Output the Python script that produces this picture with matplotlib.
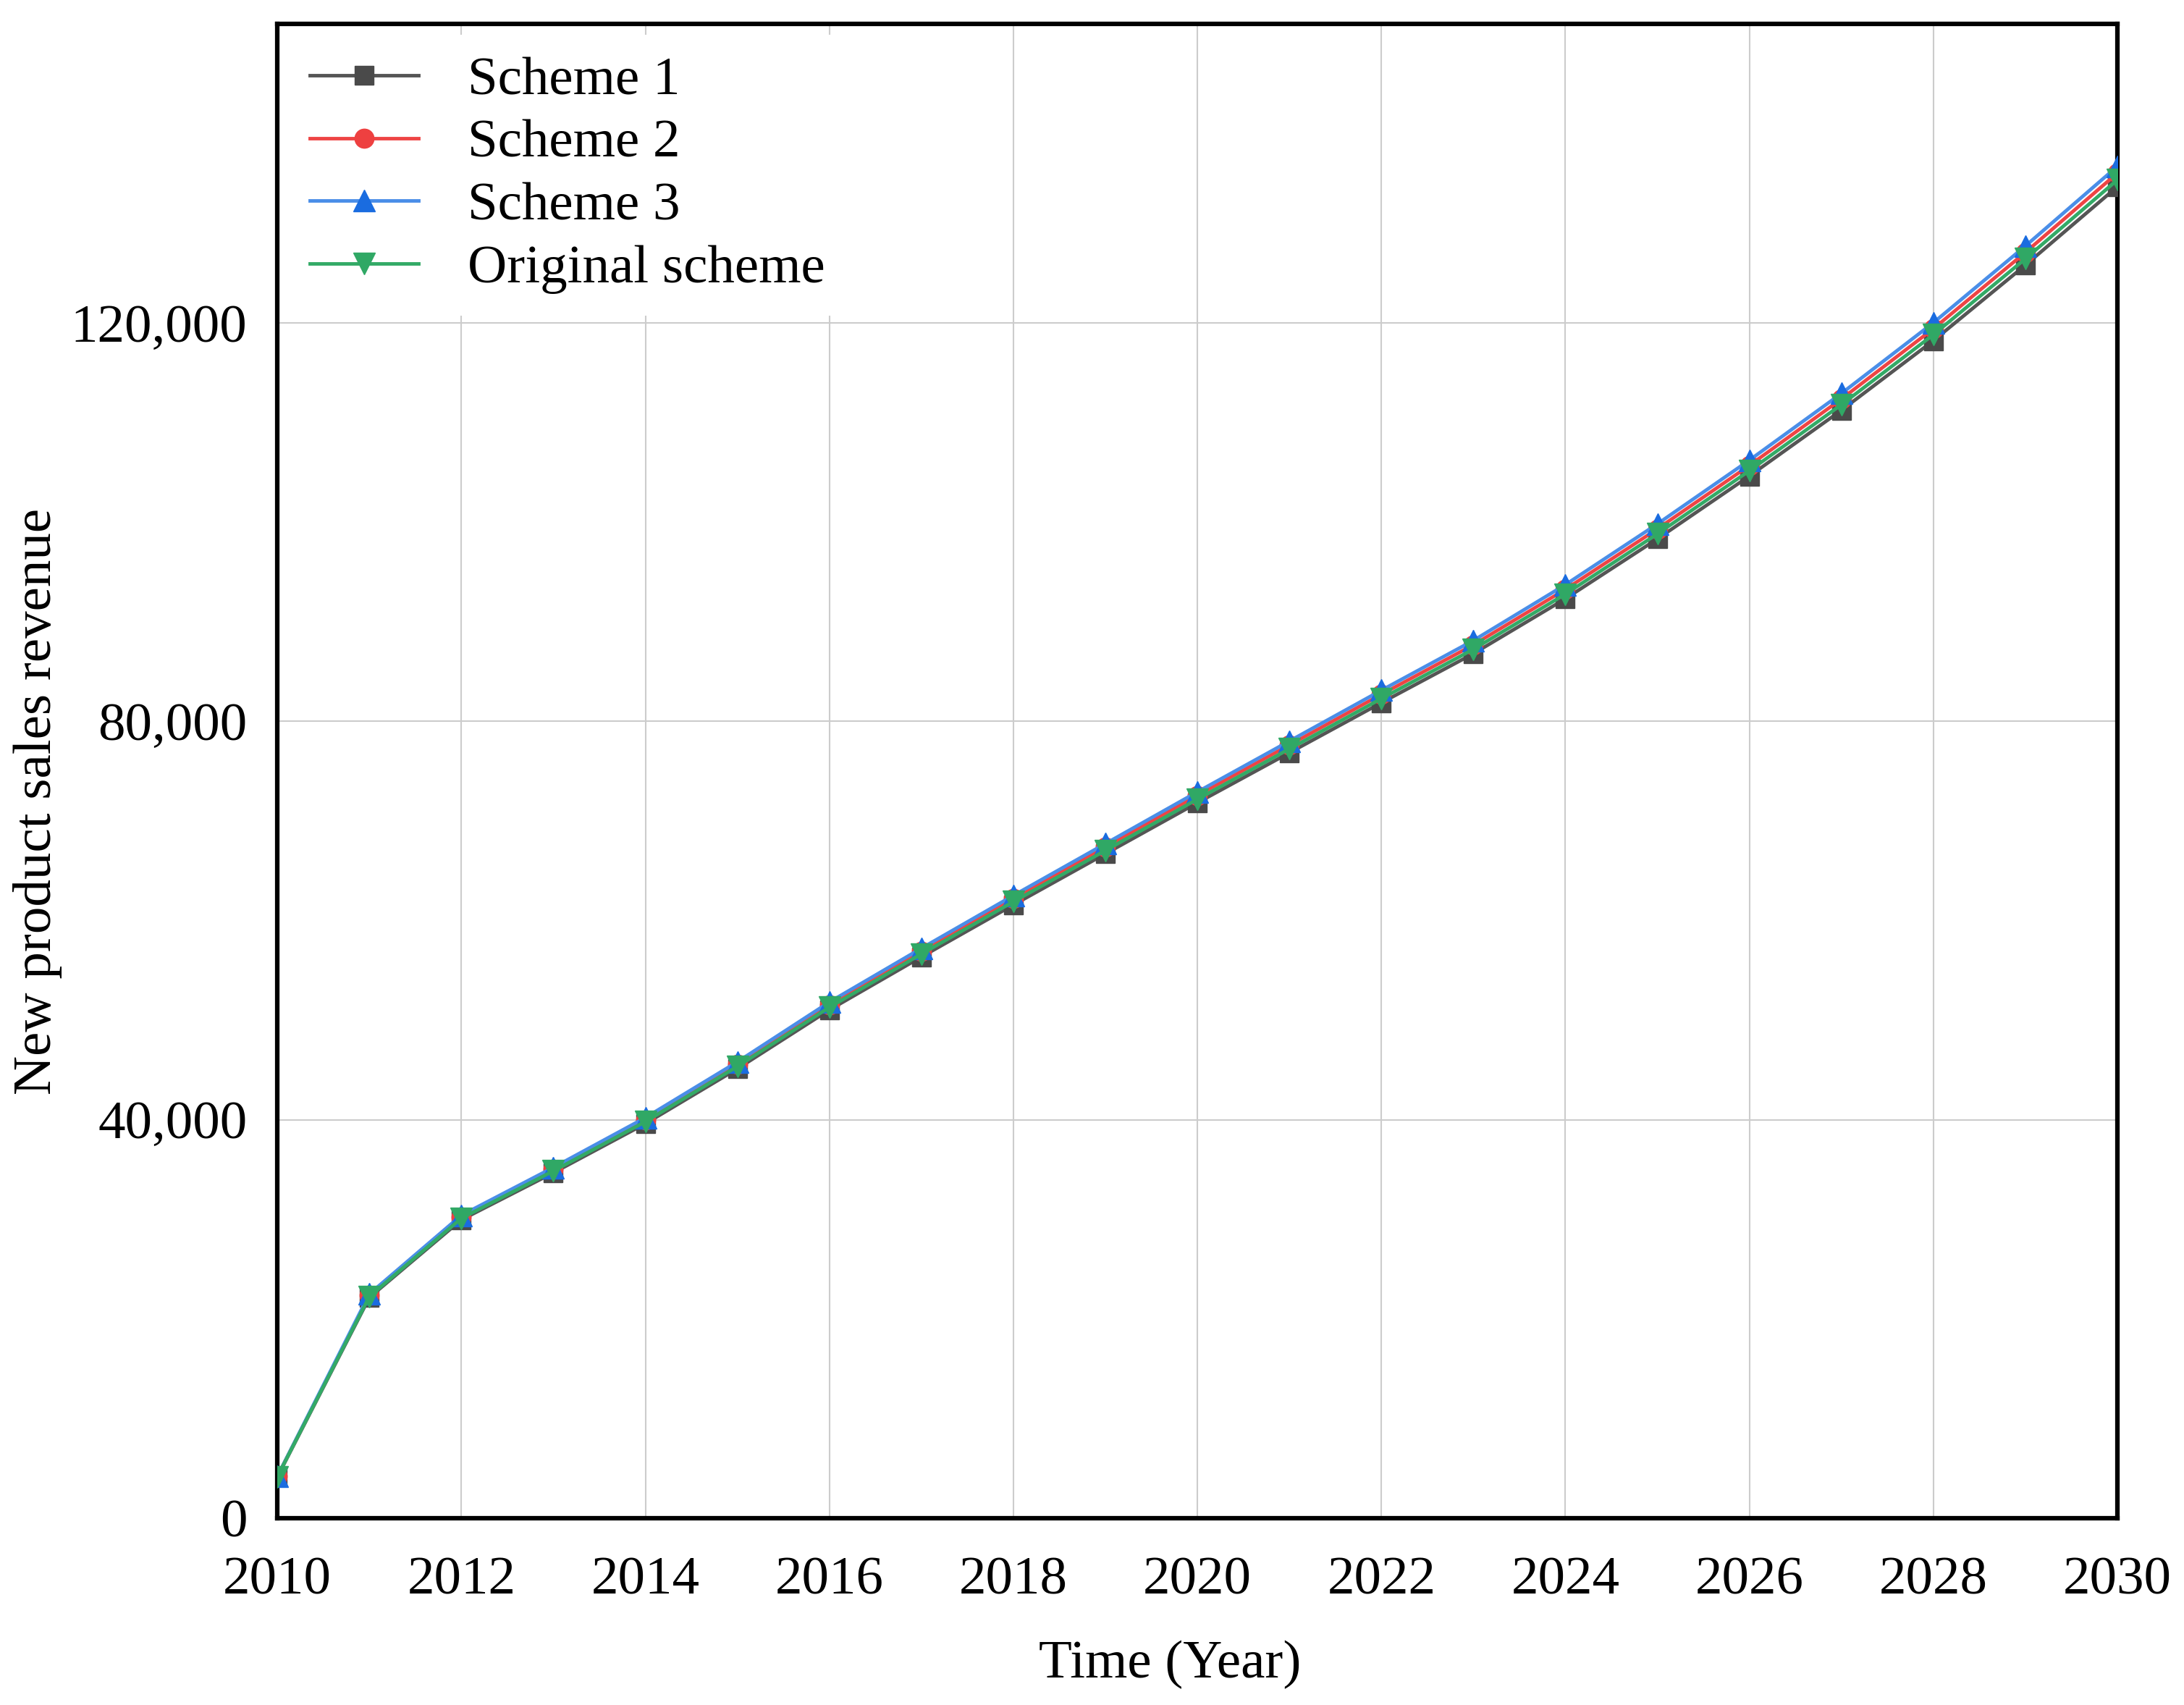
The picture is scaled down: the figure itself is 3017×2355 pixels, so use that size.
import matplotlib
matplotlib.use("Agg")
import matplotlib.pyplot as plt
from matplotlib.ticker import FuncFormatter

years = list(range(2010, 2031))
scheme3 = [4200, 22500, 30400, 35200, 40200, 45800, 51800, 57200, 62500, 67700, 72900,
           78000, 83100, 88100, 93700, 99800, 106200, 112900, 120000, 127700, 135700]
scheme2 = [4180, 22350, 30250, 35020, 40000, 45570, 51540, 56910, 62190, 67360, 72540,
           77610, 82690, 87660, 93230, 99300, 105670, 112340, 119400, 127060, 135020]
original = [4160, 22250, 30100, 34850, 39800, 45340, 51280, 56630, 61880, 67020, 72170,
            77220, 82270, 87220, 92760, 98800, 105140, 111770, 118800, 126420, 134340]
scheme1 = [4140, 22150, 29950, 34670, 39600, 45110, 51020, 56340, 61560, 66690, 71810,
           76830, 81850, 86780, 92290, 98300, 104610, 111210, 118200, 125780, 133660]
xticks = list(range(2010, 2031, 2))
yticks = [0, 40000, 80000, 120000]

plt.rcParams['font.family'] = ['Liberation Serif', 'DejaVu Serif']

fig = plt.figure(figsize=(30.17, 23.55), dpi=100)
ax = fig.add_axes([0.127, 0.1096, 0.8425, 0.8764])

l1, = ax.plot(years, scheme1, color='#555555', lw=3.5, marker='s', ms=19,
              markerfacecolor='#4a4a4a', markeredgecolor='#4a4a4a', zorder=3, label='Scheme 1')
l2, = ax.plot(years, scheme2, color='#ee4444', lw=3.5, marker='o', ms=19,
              markerfacecolor='#ee4040', markeredgecolor='#ee4040', zorder=4, label='Scheme 2')
l3, = ax.plot(years, scheme3, color='#4a8ee8', lw=3.5, marker='^', ms=22,
              markerfacecolor='#1a6ce0', markeredgecolor='#1a6ce0', zorder=5, label='Scheme 3')
l4, = ax.plot(years, original, color='#33aa66', lw=3.5, marker='v', ms=22,
              markerfacecolor='#30a865', markeredgecolor='#30a865', zorder=6, label='Original scheme')

ax.set_xlim(2010, 2030)
ax.set_ylim(0, 150000)
ax.set_xticks(xticks)
ax.set_yticks(yticks)
ax.yaxis.set_major_formatter(FuncFormatter(lambda v, p: f"{int(v):,}"))
ax.grid(True, color='#cccccc', lw=1.5)
ax.set_axisbelow(True)
ax.tick_params(axis='both', length=0, labelsize=54)
ax.tick_params(axis='x', pad=38)
ax.tick_params(axis='y', pad=30)
for s in ax.spines.values():
    s.set_linewidth(4.5)
    s.set_color('black')

fig.text(0.5357, 0.0237, 'Time (Year)', fontsize=54, ha='center', va='center')
fig.text(0.0172, 0.530, 'New product sales revenue', fontsize=54, ha='center',
         va='center', rotation=90)

leg = ax.legend(handles=[l1, l2, l3, l4], loc='upper left', fontsize=54,
                frameon=True, framealpha=1, edgecolor='white', facecolor='white',
                handlelength=2.0, handletextpad=0.9, labelspacing=0.24,
                borderaxespad=0.2, fancybox=False)
leg.get_frame().set_linewidth(0)

fig.savefig('out.png', dpi=100)
